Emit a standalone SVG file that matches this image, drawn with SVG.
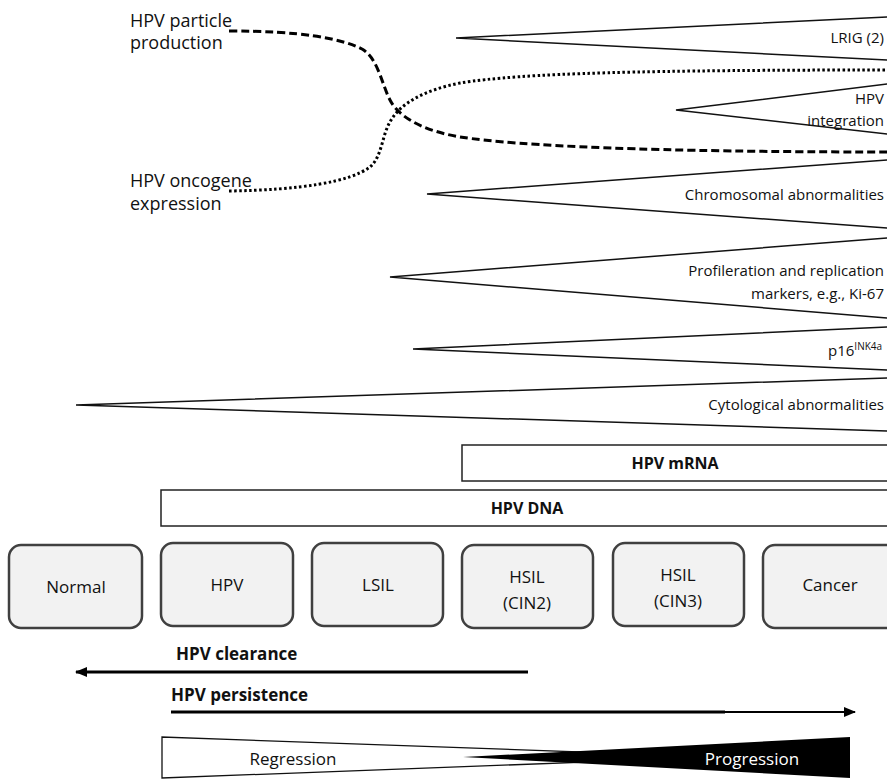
<svg xmlns="http://www.w3.org/2000/svg" width="887" height="780" viewBox="0 0 887 780">
<defs>
<style>
text{font-family:"Open Sans","Liberation Sans",sans-serif;fill:#111}
.lbl{font-size:18px}
.mk{font-size:15px;text-anchor:end}
.wedge{fill:#fff;stroke:#111;stroke-width:1.5}
.box{fill:#f2f2f2;stroke:#404040;stroke-width:2.5}
.bx{font-size:17px;text-anchor:middle}
.bar{fill:#fff;stroke:#222;stroke-width:1.5}
.bold{font-size:16px;font-weight:bold}
.big{font-size:17px;font-weight:bold}
.arr{stroke:#000;stroke-width:3;fill:none}
</style>
<marker id="ah" viewBox="0 0 12 12" refX="11" refY="6" markerWidth="12" markerHeight="12" orient="auto" markerUnits="userSpaceOnUse">
<path d="M0,1 L12,6 L0,11 z" fill="#000"/>
</marker>
</defs>

<g id="labels-left">
<text class="lbl" x="130" y="27">HPV particle</text>
<text class="lbl" x="130" y="49">production</text>
<text class="lbl" x="130" y="187">HPV oncogene</text>
<text class="lbl" x="130" y="210">expression</text>
</g>

<g id="connectors">
<path d="M229,31 C300,31 340,38 362,49 C378,58 382,85 390,100 C400,120 430,132 460,137 C520,146 650,152 890,152" fill="none" stroke="#000" stroke-width="3" stroke-dasharray="8 4"/>
<path d="M229,191 C300,190 350,182 370,167 C382,157 382,135 390,122 C400,103 425,90 460,83 C520,73 650,70 890,70" fill="none" stroke="#000" stroke-width="3" stroke-dasharray="2.5 2.5"/>
<line x1="528" y1="672" x2="76" y2="672" class="arr" marker-end="url(#ah)"/>
<line x1="171" y1="712" x2="725" y2="712" class="arr"/>
<line x1="724" y1="712" x2="855" y2="712" stroke="#000" stroke-width="2.2" marker-end="url(#ah)"/>
</g>

<g id="lrig">
<path class="wedge" d="M900,16.4 L456,38 L900,60.7"/>
<text class="mk" x="884" y="43">LRIG (2)</text>
</g>
<g id="integration">
<path class="wedge" d="M900,82.4 L676,110 L900,135.5"/>
<text class="mk" x="884" y="104">HPV</text>
<text class="mk" x="884" y="126">integration</text>
</g>
<g id="chromosomal">
<path class="wedge" d="M900,159 L427,194 L900,229"/>
<text class="mk" x="884" y="200">Chromosomal abnormalities</text>
</g>
<g id="proliferation">
<path class="wedge" d="M900,237 L390,277 L900,319"/>
<text class="mk" x="884" y="276">Profileration and replication</text>
<text class="mk" x="884" y="299">markers, e.g., Ki-67</text>
</g>
<g id="p16">
<path class="wedge" d="M900,326.4 L413,349 L900,370.6"/>
<text x="828" y="356" style="font-size:15px">p16<tspan dy="-6" style="font-size:10px">INK4a</tspan></text>
</g>
<g id="cytological">
<path class="wedge" d="M900,377.6 L76,405 L900,431.4"/>
<text class="mk" x="884" y="410">Cytological abnormalities</text>
</g>

<g id="mrna">
<rect class="bar" x="462" y="445" width="440" height="36"/>
<text class="bold" x="675" y="469" text-anchor="middle">HPV mRNA</text>
</g>
<g id="dna">
<rect class="bar" x="161" y="490" width="740" height="36"/>
<text class="bold" x="527" y="514" text-anchor="middle">HPV DNA</text>
</g>

<g id="normal">
<rect class="box" x="9" y="545" width="133" height="83" rx="12"/>
<text class="bx" x="76" y="593">Normal</text>
</g>
<g id="hpv">
<rect class="box" x="161" y="543" width="132" height="83" rx="12"/>
<text class="bx" x="227" y="591">HPV</text>
</g>
<g id="lsil">
<rect class="box" x="312" y="543" width="131" height="83" rx="12"/>
<text class="bx" x="378" y="591">LSIL</text>
</g>
<g id="cin2">
<rect class="box" x="462" y="545" width="131" height="83" rx="12"/>
<text class="bx" x="527" y="583">HSIL</text>
<text class="bx" x="527" y="609">(CIN2)</text>
</g>
<g id="cin3">
<rect class="box" x="613" y="543" width="131" height="83" rx="12"/>
<text class="bx" x="678" y="581">HSIL</text>
<text class="bx" x="678" y="607">(CIN3)</text>
</g>
<g id="cancer">
<rect class="box" x="763" y="545" width="140" height="83" rx="12"/>
<text class="bx" x="830" y="591">Cancer</text>
</g>

<g id="clearance">
<text class="big" x="176" y="660">HPV clearance</text>
</g>
<g id="persistence">
<text class="big" x="171" y="701">HPV persistence</text>
</g>

<g id="regression-progression">
<polygon points="162,737 162,778 720,757" fill="#fff" stroke="#111" stroke-width="1.3"/>
<polygon points="463,757 850,737 850,778" fill="#000"/>
<text x="293" y="765" text-anchor="middle" style="font-size:17px">Regression</text>
<text x="752" y="765" text-anchor="middle" style="font-size:17px;fill:#fff">Progression</text>
</g>
</svg>
